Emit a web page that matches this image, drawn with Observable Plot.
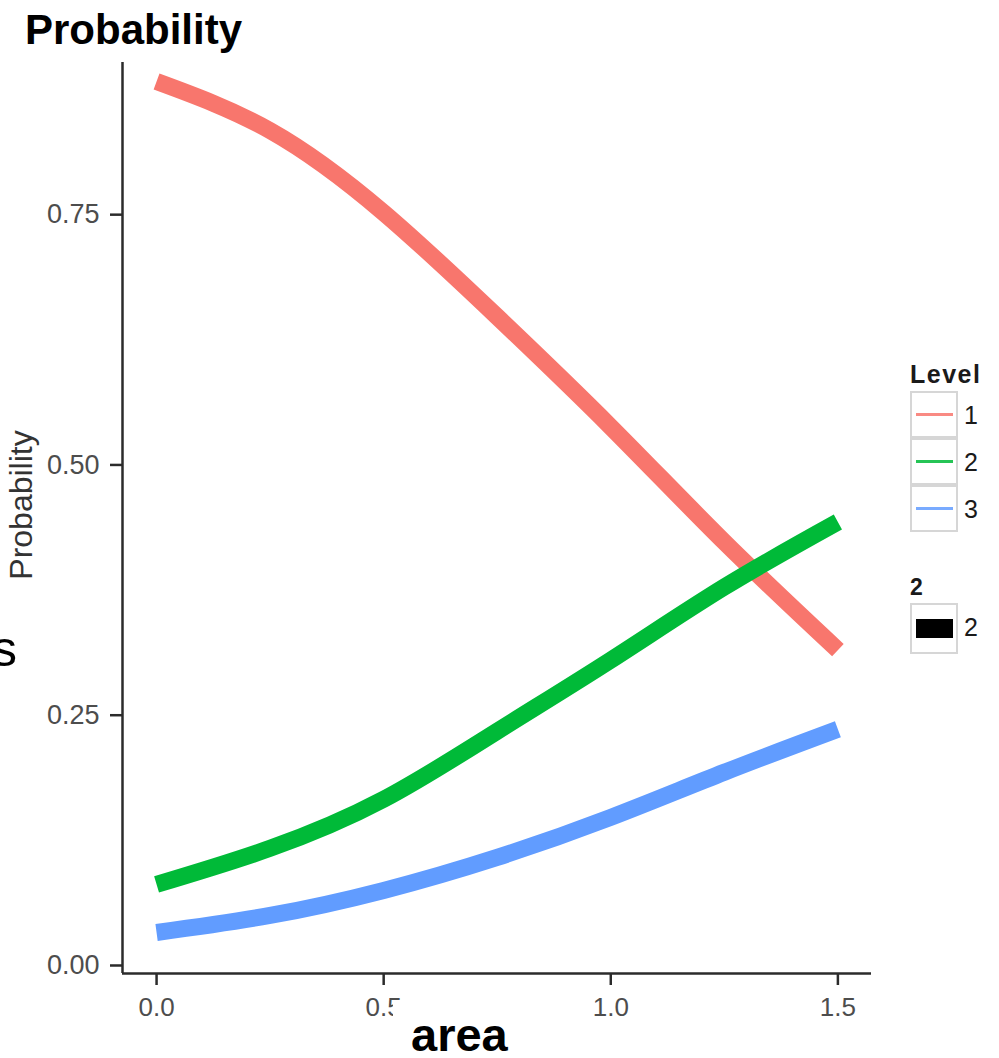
<!DOCTYPE html>
<html>
<head>
<meta charset="utf-8">
<script src="https://cdn.jsdelivr.net/npm/d3@7"></script>
<script src="https://cdn.jsdelivr.net/npm/@observablehq/plot@0.6"></script>
<style>
  html, body { margin: 0; padding: 0; background: #fff; }
  #wrap { position: relative; width: 999px; height: 1058px; overflow: hidden; font-family: "Liberation Sans", Arial, Helvetica, sans-serif; }
  #wrap > svg { position: absolute; left: 0; top: 0; }
  .abs { position: absolute; white-space: nowrap; line-height: 1; }
  .key { position: absolute; width: 44px; height: 44px; border: 2px solid #d6d6d6; background: #fff; box-sizing: content-box; }
</style>
</head>
<body>
<div id="wrap"></div>
<script>
// ---- data ----
const area   = [0, 0.25, 0.5, 0.75, 1.0, 1.25, 1.5];
const level1 = [0.883, 0.834, 0.752, 0.648, 0.538, 0.423, 0.315];
const level2 = [0.081, 0.117, 0.166, 0.234, 0.305, 0.378, 0.443];
const level3 = [0.033, 0.050, 0.075, 0.108, 0.148, 0.193, 0.236];
const levels = ["1", "2", "3"];
const levelColors = ["#F8766D", "#00BA38", "#619CFF"];
const yTicks = [0, 0.25, 0.5, 0.75];
const xTicks = [0, 0.5, 1.0, 1.5];
const xDomain = [-0.075, 1.574];
const yDomain = [-0.008, 0.902];

const series = [level1, level2, level3];
const rows = [];
series.forEach((vals, i) => vals.forEach((v, j) => rows.push({area: area[j], prob: v, level: levels[i]})));

const chart = Plot.plot({
  width: 999,
  height: 1058,
  marginLeft: 122,
  marginRight: 128,
  marginTop: 62,
  marginBottom: 85,
  style: {fontFamily: "'Liberation Sans', Arial, sans-serif", background: "white", overflow: "visible"},
  x: {domain: xDomain},
  y: {domain: yDomain},
  color: {domain: levels, range: levelColors},
  marks: [
    Plot.line(rows, {x: "area", y: "prob", z: "level", stroke: "level", strokeWidth: 17, strokeLinecap: "butt", curve: "natural"}),
    Plot.ruleX([xDomain[0]], {stroke: "#2b2b2b", strokeWidth: 2.5}),
    Plot.ruleY([yDomain[0]], {stroke: "#2b2b2b", strokeWidth: 2.5}),
    Plot.axisY({ticks: yTicks, tickFormat: d3.format(".2f"), tickSize: 12, tickPadding: 11, fontSize: 27, label: null, stroke: "#2b2b2b", strokeWidth: 2.5, fill: "#4d4d4d"}),
    Plot.axisX({ticks: xTicks, tickFormat: d3.format(".1f"), tickSize: 12, tickPadding: 12, fontSize: 26, label: null, stroke: "#2b2b2b", strokeWidth: 2.5, fill: "#4d4d4d"})
  ]
});

const wrap = document.getElementById("wrap");
wrap.appendChild(chart);

function addText(txt, css) {
  const d = document.createElement("div");
  d.className = "abs";
  d.textContent = txt;
  Object.assign(d.style, css);
  wrap.appendChild(d);
  return d;
}

// title
addText("Probability", {left: "25px", top: "9px", fontSize: "42px", fontWeight: "bold", color: "#000"});
// stray letter at left edge
addText("s", {left: "-8px", top: "624px", fontSize: "50px", color: "#000"});
// y-axis title (rotated)
addText("Probability", {left: "37px", top: "505px", fontSize: "32px", color: "#333", transformOrigin: "0 0", transform: "rotate(-90deg) translate(-50%, -100%)"});
// white patch over part of the 0.5 tick label + x title
const patch = document.createElement("div");
Object.assign(patch.style, {position: "absolute", left: "393px", top: "1003px", width: "137px", height: "55px", background: "#fff"});
wrap.appendChild(patch);
addText("area", {left: "411px", top: "1011px", fontSize: "47px", fontWeight: "bold", color: "#000"});

// legend: Level
addText("Level", {left: "910px", top: "362px", fontSize: "25px", fontWeight: "bold", color: "#1a1a1a", letterSpacing: "1.5px"});
const keyTops = [391, 438, 485];
levels.forEach((lv, i) => {
  const k = document.createElement("div");
  k.className = "key";
  k.style.left = "910px";
  k.style.top = keyTops[i] + "px";
  k.style.height = "43px";
  const seg = document.createElement("div");
  Object.assign(seg.style, {position: "absolute", left: "4px", top: "20px", width: "37px", height: "3px", background: levelColors[i], opacity: 0.85});
  k.appendChild(seg);
  wrap.appendChild(k);
  addText(lv, {left: "964px", top: (keyTops[i] + 12) + "px", fontSize: "25px", color: "#1a1a1a"});
});
// legend: 2
addText("2", {left: "910px", top: "576px", fontSize: "23px", fontWeight: "bold", color: "#1a1a1a"});
const k2 = document.createElement("div");
k2.className = "key";
k2.style.left = "910px";
k2.style.top = "603px";
k2.style.height = "47px";
const blk = document.createElement("div");
Object.assign(blk.style, {position: "absolute", left: "4px", top: "14px", width: "37px", height: "19px", background: "#000"});
k2.appendChild(blk);
wrap.appendChild(k2);
addText("2", {left: "964px", top: "615px", fontSize: "25px", color: "#1a1a1a"});
</script>
</body>
</html>
